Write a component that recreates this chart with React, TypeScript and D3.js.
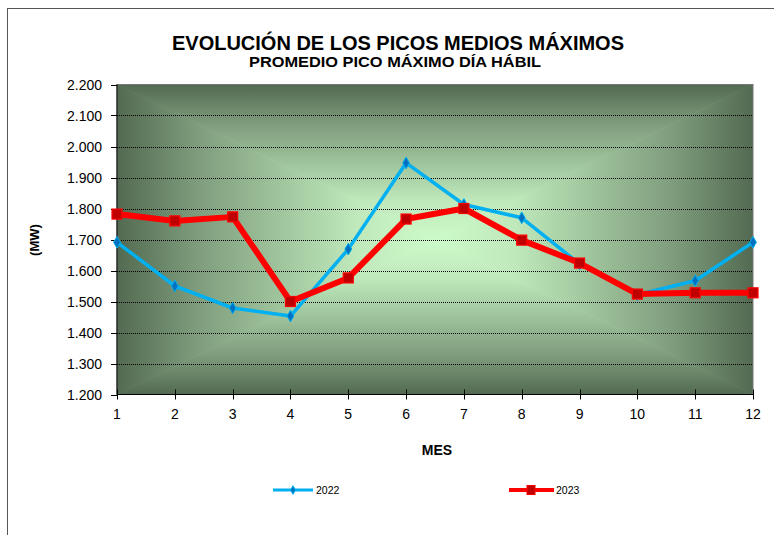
import React from "react";
import * as d3 from "d3";

const months = [1, 2, 3, 4, 5, 6, 7, 8, 9, 10, 11, 12];
const series2022 = [1691, 1550, 1479, 1453, 1669, 1947, 1813, 1770, 1621, 1522, 1567, 1691];
const series2023 = [1782, 1760, 1773, 1500, 1576, 1766, 1800, 1698, 1624, 1524, 1528, 1528];
const yTicks = [1200, 1300, 1400, 1500, 1600, 1700, 1800, 1900, 2000, 2100, 2200];
const title = "EVOLUCIÓN DE LOS PICOS MEDIOS MÁXIMOS";
const subtitle = "PROMEDIO PICO MÁXIMO DÍA HÁBIL";
const yLabel = "(MW)";
const xLabel = "MES";
const legendNames = ["2022", "2023"];

const W = 774;
const H = 535;
const L = 117, R = 753, T = 84.5, B = 394.5;

const fmt = (v: number) => {
  const s = String(v);
  return s.length > 3 ? s.slice(0, s.length - 3) + "." + s.slice(-3) : s;
};

export default function App() {
  const x = d3.scaleLinear().domain([1, 12]).range([L, R]);
  const y = d3.scaleLinear().domain([1200, 2200]).range([B, T]);
  const line = d3
    .line<number>()
    .x((_, i) => x(months[i]))
    .y((d) => y(d));
  const cx = (L + R) / 2;
  const cy = (T + B) / 2;
  const font = "'Liberation Sans', Arial, sans-serif";
  const stops = (
    <>
      <stop offset="0" stopColor="#526a51" />
      <stop offset="0.26" stopColor="#809e7e" />
      <stop offset="0.58" stopColor="#a8cfa5" />
      <stop offset="0.75" stopColor="#bfe8bb" />
      <stop offset="1" stopColor="#cdfbc9" />
    </>
  );
  const diamond = d3.symbol().type(d3.symbolDiamond).size(40)();
  return (
    <svg
      width={W}
      height={H}
      style={{ position: "absolute", left: 0, top: 0, background: "#fff" }}
      fontFamily={font}
    >
      <defs>
        <linearGradient id="gTop" gradientUnits="userSpaceOnUse" x1={cx} y1={T} x2={cx} y2={cy}>{stops}</linearGradient>
        <linearGradient id="gBot" gradientUnits="userSpaceOnUse" x1={cx} y1={B} x2={cx} y2={cy}>{stops}</linearGradient>
        <linearGradient id="gLeft" gradientUnits="userSpaceOnUse" x1={L} y1={cy} x2={cx} y2={cy}>{stops}</linearGradient>
        <linearGradient id="gRight" gradientUnits="userSpaceOnUse" x1={R} y1={cy} x2={cx} y2={cy}>{stops}</linearGradient>
        <clipPath id="plotClip">
          <rect x={L} y={T} width={R - L} height={B - T} />
        </clipPath>
      </defs>
      <rect x={7.5} y={8.5} width={W + 10} height={H + 10} fill="#fff" stroke="#555" strokeWidth={1} />
      <text x={398} y={50} textAnchor="middle" fontWeight="bold" fontSize={19.5} textLength={452} lengthAdjust="spacingAndGlyphs">{title}</text>
      <text x={395} y={67} textAnchor="middle" fontWeight="bold" fontSize={14} textLength={292} lengthAdjust="spacingAndGlyphs">{subtitle}</text>

      {/* plot background: rectangular from-center gradient */}
      <g clipPath="url(#plotClip)">
        <polygon points={`${L},${T} ${R},${T} ${cx},${cy}`} fill="url(#gTop)" stroke="url(#gTop)" strokeWidth={0.8} />
        <polygon points={`${L},${B} ${R},${B} ${cx},${cy}`} fill="url(#gBot)" stroke="url(#gBot)" strokeWidth={0.8} />
        <polygon points={`${L},${T} ${L},${B} ${cx},${cy}`} fill="url(#gLeft)" stroke="url(#gLeft)" strokeWidth={0.8} />
        <polygon points={`${R},${T} ${R},${B} ${cx},${cy}`} fill="url(#gRight)" stroke="url(#gRight)" strokeWidth={0.8} />
      </g>
      <rect x={L} y={T} width={R - L} height={B - T} fill="none" stroke="#777" strokeWidth={1} />

      {yTicks.map((t) => (
        <g key={t}>
          {t > 1200 && t < 2200 && (
            <line x1={L} x2={R} y1={Math.round(y(t)) + 0.5} y2={Math.round(y(t)) + 0.5} stroke="#000" strokeDasharray="1,1" strokeWidth={1} />
          )}
          <line x1={L - 6} x2={L} y1={Math.round(y(t)) + 0.5} y2={Math.round(y(t)) + 0.5} stroke="#000" />
          <text x={102} y={y(t) + 5} textAnchor="end" fontSize={14}>{fmt(t)}</text>
        </g>
      ))}
      {months.map((m) => (
        <g key={m}>
          <line x1={Math.round(x(m)) + 0.5} x2={Math.round(x(m)) + 0.5} y1={B - 5} y2={B + 5} stroke="#000" />
          <text x={x(m)} y={419} textAnchor="middle" fontSize={14}>{m}</text>
        </g>
      ))}
      <line x1={L} x2={L} y1={T} y2={B} stroke="#000" />
      <line x1={L} x2={R} y1={B} y2={B} stroke="#000" />

      <text transform={`translate(39,240) rotate(-90)`} textAnchor="middle" fontWeight="bold" fontSize={13}>{yLabel}</text>
      <text x={437} y={455} textAnchor="middle" fontWeight="bold" fontSize={14}>{xLabel}</text>

      {/* series */}
      <path d={line(series2022) || ""} fill="none" stroke="#00B0F0" strokeWidth={3.5} strokeLinejoin="round" />
      {series2022.map((v, i) => (
        <path key={i} d={diamond || ""} transform={`translate(${x(months[i])},${y(v)})`} fill="#0070C0" stroke="#00B0F0" strokeWidth={1} />
      ))}
      <path d={line(series2023) || ""} fill="none" stroke="#FF0000" strokeWidth={6} strokeLinejoin="round" />
      {series2023.map((v, i) => (
        <rect key={i} x={x(months[i]) - 5} y={y(v) - 5} width={10} height={10} fill="#C00000" stroke="#FF0000" strokeWidth={1.2} />
      ))}

      {/* legend */}
      <line x1={273} x2={313} y1={490} y2={490} stroke="#00B0F0" strokeWidth={3} />
      <path d={d3.symbol().type(d3.symbolDiamond).size(22)() || ""} transform="translate(293,490)" fill="#0070C0" stroke="#00B0F0" />
      <text x={316} y={494} fontSize={10.5}>{legendNames[0]}</text>
      <line x1={509} x2={554} y1={490} y2={490} stroke="#FF0000" strokeWidth={4} />
      <rect x={527} y={485.5} width={8} height={9} fill="#C00000" stroke="#FF0000" />
      <text x={556} y={494} fontSize={10.5}>{legendNames[1]}</text>
    </svg>
  );
}
